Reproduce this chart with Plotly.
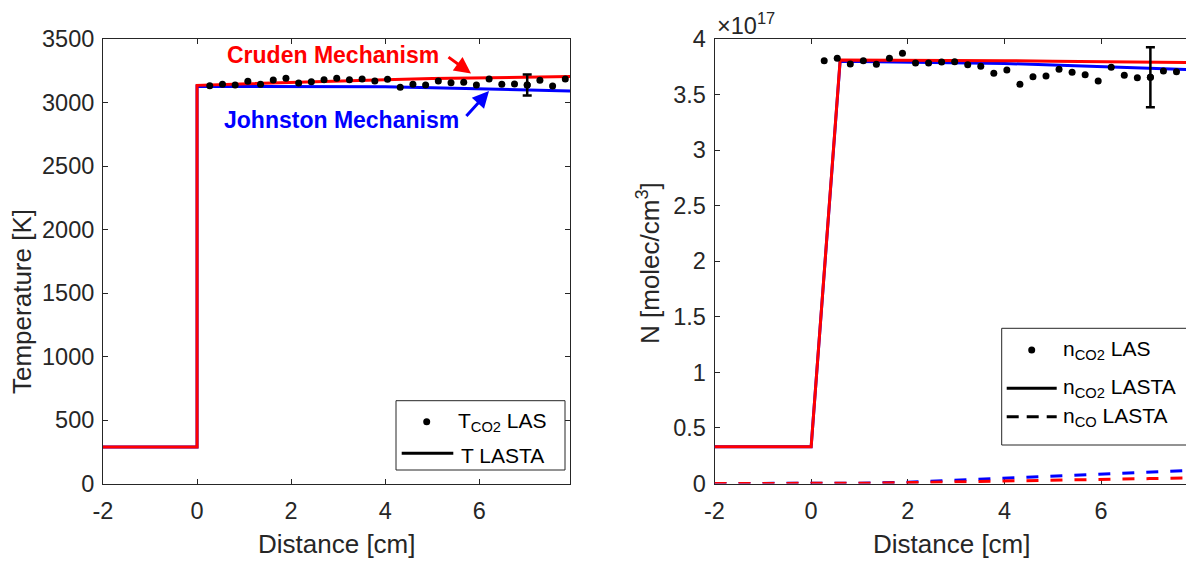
import plotly.graph_objects as go

W, H = 1186, 561

# ---------------- data ----------------
# LAS measurement positions [cm]
las_dist = [0.27, 0.54, 0.81, 1.08, 1.35, 1.62, 1.89, 2.16, 2.43, 2.70,
            2.97, 3.24, 3.51, 3.78, 4.05, 4.32, 4.59, 4.86, 5.13, 5.40,
            5.67, 5.94, 6.21, 6.48, 6.75, 7.02, 7.29, 7.56, 7.83]
# T_CO2 LAS [K]
T_las = [3132, 3143, 3138, 3167, 3143, 3177, 3191, 3154, 3164, 3180,
         3191, 3180, 3185, 3169, 3183, 3120, 3143, 3138, 3169, 3156,
         3159, 3138, 3185, 3143, 3146, 3138, 3175, 3130, 3185]
T_err_dist = [7.02]
T_err_val = [3138]
T_err = [83]

# LASTA temperature [K]
lasta_T_dist = [-2, 0, 0, 1, 2, 3, 4, 5, 6, 7, 7.93]
T_cruden = [287, 287, 3135, 3147, 3158, 3170, 3180, 3188, 3195, 3200, 3204]
T_johnston = [287, 287, 3128, 3128, 3128, 3127, 3124, 3117, 3107, 3098, 3091]

# n_CO2 LAS [molec/cm^3]
n_las = [3.805e17, 3.826e17, 3.775e17, 3.805e17, 3.772e17, 3.826e17, 3.871e17,
         3.784e17, 3.784e17, 3.793e17, 3.796e17, 3.769e17, 3.754e17, 3.691e17,
         3.721e17, 3.592e17, 3.661e17, 3.667e17, 3.727e17, 3.700e17, 3.679e17,
         3.622e17, 3.745e17, 3.673e17, 3.652e17, 3.655e17, 3.712e17, 3.706e17,
         3.676e17]
n_err_dist = [7.02]
n_err_val = [3.655e17]
n_err = [0.27e17]

# LASTA n_CO2
lasta_n_dist = [-2, 0, 0.6, 2, 4, 5, 6, 7, 7.76]
nCO2_cruden = [0.33e17, 0.33e17, 3.811e17, 3.810e17, 3.805e17, 3.800e17, 3.795e17, 3.790e17, 3.788e17]
nCO2_johnston = [0.33e17, 0.33e17, 3.800e17, 3.790e17, 3.780e17, 3.765e17, 3.750e17, 3.735e17, 3.725e17]

# LASTA n_CO
lasta_co_dist = [-2, 0, 1, 2, 3, 4, 5, 6, 7, 7.76]
nCO_cruden = [0, 0, 0.002e17, 0.008e17, 0.014e17, 0.021e17, 0.027e17, 0.035e17, 0.044e17, 0.050e17]
nCO_johnston = [0, 0, 0.003e17, 0.012e17, 0.030e17, 0.047e17, 0.062e17, 0.082e17, 0.102e17, 0.117e17]

T_ticks = [0, 500, 1000, 1500, 2000, 2500, 3000, 3500]
n_ticks = [0, 0.5e17, 1e17, 1.5e17, 2e17, 2.5e17, 3e17, 3.5e17, 4e17]
n_ticktext = ["0", "0.5", "1", "1.5", "2", "2.5", "3", "3.5", "4"]
x_ticks = [-2, 0, 2, 4, 6]
x_ticktext = ["-2", "0", "2", "4", "6"]

# ---------------- styling ----------------
RED = "#ff0000"
BLUE = "#0000ff"
AX = "#262626"
FONT = "Liberation Sans, Arial, sans-serif"
TICKF = 23.5
LABF = 26
LEGF = 21


def PX(v):
    return v / W


def PY(v):
    return 1 - v / H


fig = go.Figure()

# left panel
fig.add_trace(go.Scatter(x=lasta_T_dist, y=T_johnston, mode="lines",
                         line=dict(color=BLUE, width=3), xaxis="x", yaxis="y"))
fig.add_trace(go.Scatter(x=lasta_T_dist, y=T_cruden, mode="lines",
                         line=dict(color=RED, width=3), xaxis="x", yaxis="y"))
fig.add_trace(go.Scatter(x=las_dist, y=T_las, mode="markers",
                         marker=dict(color="black", size=7), xaxis="x", yaxis="y"))
fig.add_trace(go.Scatter(x=T_err_dist, y=T_err_val, mode="markers",
                         marker=dict(color="black", size=7),
                         error_y=dict(type="data", array=T_err, visible=True,
                                      thickness=2.5, width=4.5, color="black"),
                         xaxis="x", yaxis="y"))

# right panel
fig.add_trace(go.Scatter(x=lasta_co_dist, y=nCO_johnston, mode="lines",
                         line=dict(color=BLUE, width=3, dash="12px,12px"),
                         xaxis="x2", yaxis="y2"))
fig.add_trace(go.Scatter(x=lasta_co_dist, y=nCO_cruden, mode="lines",
                         line=dict(color=RED, width=3, dash="12px,12px"),
                         xaxis="x2", yaxis="y2"))
fig.add_trace(go.Scatter(x=lasta_n_dist, y=nCO2_johnston, mode="lines",
                         line=dict(color=BLUE, width=3), xaxis="x2", yaxis="y2"))
fig.add_trace(go.Scatter(x=lasta_n_dist, y=nCO2_cruden, mode="lines",
                         line=dict(color=RED, width=3), xaxis="x2", yaxis="y2"))
fig.add_trace(go.Scatter(x=las_dist, y=n_las, mode="markers",
                         marker=dict(color="black", size=7), xaxis="x2", yaxis="y2"))
fig.add_trace(go.Scatter(x=n_err_dist, y=n_err_val, mode="markers",
                         marker=dict(color="black", size=7),
                         error_y=dict(type="data", array=n_err, visible=True,
                                      thickness=2.5, width=4.5, color="black"),
                         xaxis="x2", yaxis="y2"))

ydom = [PY(483.5), PY(39)]
common = dict(showgrid=False, zeroline=False, showline=True, linecolor=AX, linewidth=1,
              ticks="inside", ticklen=5, tickwidth=1, tickcolor=AX,
              tickfont=dict(family=FONT, size=TICKF, color=AX), layer="below traces")

fig.update_layout(
    width=W, height=H,
    margin=dict(l=0, r=0, t=0, b=0, autoexpand=False),
    plot_bgcolor="white", paper_bgcolor="white",
    showlegend=False,
    xaxis=dict(domain=[PX(103), PX(570)], range=[-2, 7.93], tickvals=x_ticks,
               ticktext=x_ticktext, ticklabelstandoff=6,
               mirror="ticks", anchor="y", automargin=False, **common),
    yaxis=dict(domain=ydom, range=[0, 3500], tickvals=T_ticks, ticklabelstandoff=3,
               mirror="ticks", anchor="x", automargin=False, **common),
    xaxis2=dict(domain=[PX(714.5), 1.0], range=[-2, 7.757], tickvals=x_ticks,
                ticktext=x_ticktext, ticklabelstandoff=6,
                mirror="ticks", anchor="y2", automargin=False, **common),
    yaxis2=dict(domain=ydom, range=[0, 4e17], tickvals=n_ticks, ticktext=n_ticktext,
                ticklabelstandoff=3,
                mirror=False, anchor="x2", automargin=False, **common),
)

ann = []
shapes = []

# axis titles
ann.append(dict(text="Distance [cm]", x=PX(336.5), y=PY(544), xref="paper", yref="paper",
                showarrow=False, xanchor="center", yanchor="middle",
                font=dict(family=FONT, size=LABF, color=AX)))
ann.append(dict(text="Distance [cm]", x=PX(952), y=PY(544), xref="paper", yref="paper",
                showarrow=False, xanchor="center", yanchor="middle",
                font=dict(family=FONT, size=LABF, color=AX)))
ann.append(dict(text="Temperature [K]", x=PX(22), y=PY(302), xref="paper", yref="paper",
                showarrow=False, xanchor="center", yanchor="middle", textangle=-90,
                font=dict(family=FONT, size=LABF, color=AX)))
ann.append(dict(text="N [molec/cm<sup>3</sup>]", x=PX(648), y=PY(263), xref="paper", yref="paper",
                showarrow=False, xanchor="center", yanchor="middle", textangle=-90,
                font=dict(family=FONT, size=LABF, color=AX)))
# exponent
ann.append(dict(text="\u00d710<sup>17</sup>", x=PX(715), y=PY(24), xref="paper", yref="paper",
                showarrow=False, xanchor="left", yanchor="middle",
                font=dict(family=FONT, size=TICKF, color=AX)))

# mechanism labels
ann.append(dict(text="<b>Cruden Mechanism</b>", x=PX(332.5), y=PY(55), xref="paper", yref="paper",
                showarrow=False, xanchor="center", yanchor="middle",
                font=dict(family=FONT, size=23, color=RED)))
ann.append(dict(text="<b>Johnston Mechanism</b>", x=PX(341), y=PY(120), xref="paper", yref="paper",
                showarrow=False, xanchor="center", yanchor="middle",
                font=dict(family=FONT, size=23, color=BLUE)))
ann.append(dict(text="", x=PX(471), y=PY(73.5), xref="paper", yref="paper",
                showarrow=True, ax=-24, ay=-17.5, arrowhead=2, arrowsize=1.1,
                arrowwidth=3, arrowcolor=RED, standoff=0))
ann.append(dict(text="", x=PX(489), y=PY(91), xref="paper", yref="paper",
                showarrow=True, ax=-24, ay=26.5, arrowhead=2, arrowsize=1.1,
                arrowwidth=3, arrowcolor=BLUE, standoff=0))

# left legend
shapes.append(dict(type="rect", xref="paper", yref="paper",
                   x0=PX(396), x1=PX(565), y0=PY(470), y1=PY(400.7),
                   fillcolor="white", line=dict(color=AX, width=1), layer="above"))
shapes.append(dict(type="circle", xref="paper", yref="paper",
                   x0=PX(423.2), x1=PX(430.2), y0=PY(425.2), y1=PY(418.2),
                   fillcolor="black", line=dict(color="black", width=0), layer="above"))
shapes.append(dict(type="line", xref="paper", yref="paper",
                   x0=PX(401.7), x1=PX(453.3), y0=PY(453.3), y1=PY(453.3),
                   line=dict(color="black", width=3), layer="above"))
ann.append(dict(text="T<sub>CO2</sub> LAS", x=PX(456), y=PY(422), xref="paper", yref="paper",
                showarrow=False, xanchor="left", yanchor="middle",
                font=dict(family=FONT, size=LEGF, color="black")))
ann.append(dict(text="T LASTA", x=PX(459), y=PY(455), xref="paper", yref="paper",
                showarrow=False, xanchor="left", yanchor="middle",
                font=dict(family=FONT, size=LEGF, color="black")))

# right legend
shapes.append(dict(type="rect", xref="paper", yref="paper",
                   x0=PX(1001.7), x1=1.02, y0=PY(445), y1=PY(328.3),
                   fillcolor="white", line=dict(color=AX, width=1), layer="above"))
shapes.append(dict(type="circle", xref="paper", yref="paper",
                   x0=PX(1028.2), x1=PX(1035.2), y0=PY(353.5), y1=PY(346.5),
                   fillcolor="black", line=dict(color="black", width=0), layer="above"))
shapes.append(dict(type="line", xref="paper", yref="paper",
                   x0=PX(1006.7), x1=PX(1056.7), y0=PY(388.3), y1=PY(388.3),
                   line=dict(color="black", width=3), layer="above"))
shapes.append(dict(type="line", xref="paper", yref="paper",
                   x0=PX(1006.7), x1=PX(1056.7), y0=PY(416.7), y1=PY(416.7),
                   line=dict(color="black", width=3, dash="12px,8px"), layer="above"))
ann.append(dict(text="n<sub>CO2</sub> LAS", x=PX(1061), y=PY(350), xref="paper", yref="paper",
                showarrow=False, xanchor="left", yanchor="middle",
                font=dict(family=FONT, size=LEGF, color="black")))
ann.append(dict(text="n<sub>CO2</sub> LASTA", x=PX(1061), y=PY(388), xref="paper", yref="paper",
                showarrow=False, xanchor="left", yanchor="middle",
                font=dict(family=FONT, size=LEGF, color="black")))
ann.append(dict(text="n<sub>CO</sub> LASTA", x=PX(1061), y=PY(417), xref="paper", yref="paper",
                showarrow=False, xanchor="left", yanchor="middle",
                font=dict(family=FONT, size=LEGF, color="black")))

fig.update_layout(annotations=ann, shapes=shapes)
fig.write_html("out.html",
               config={"displayModeBar": False},
               post_script="document.body.style.margin='0px';document.body.style.overflow='hidden';")
